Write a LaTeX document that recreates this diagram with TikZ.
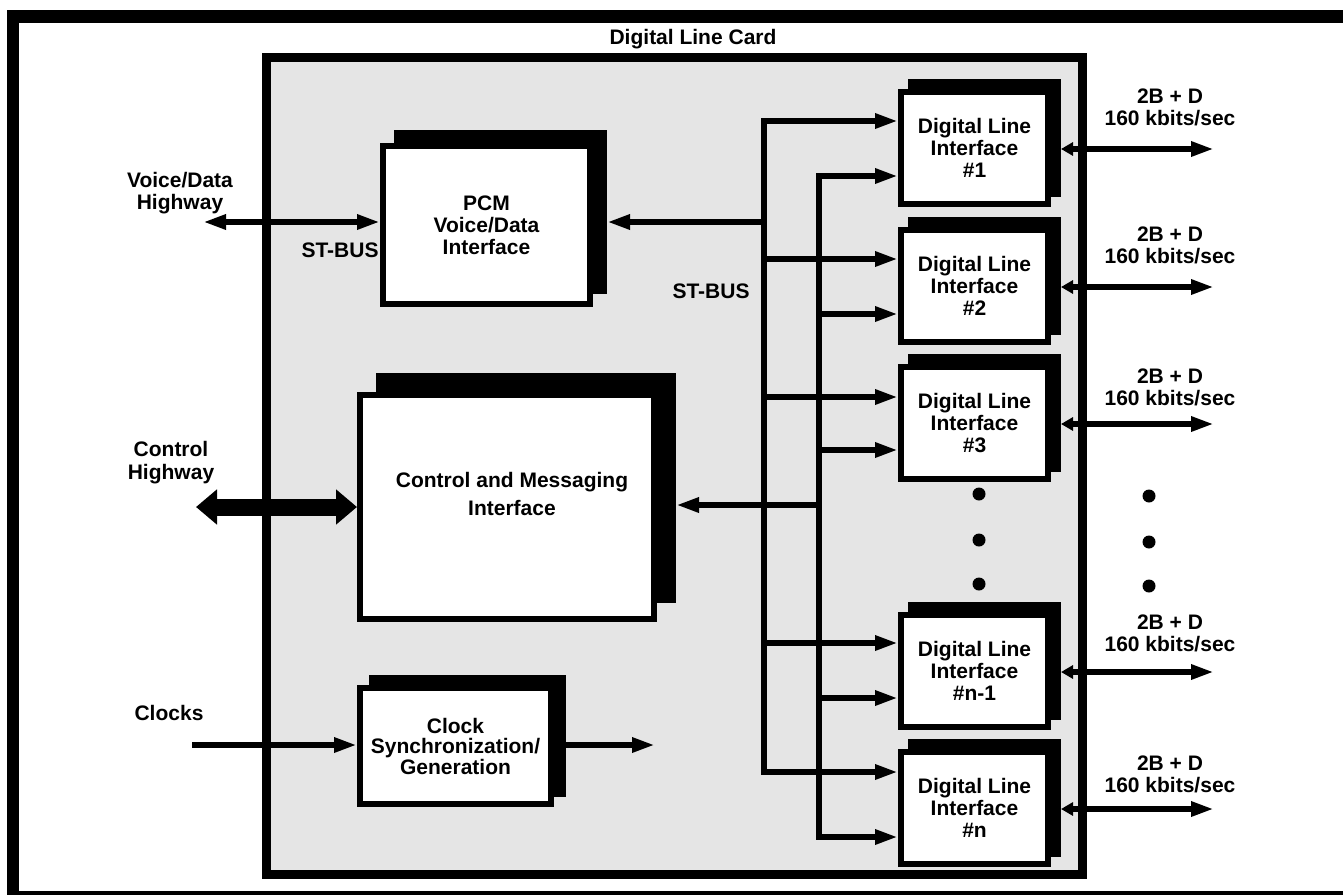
\documentclass[tikz,border=0pt]{standalone}
\usepackage{fontspec}
\setmainfont{Liberation Sans}
\usetikzlibrary{arrows.meta}
\definecolor{cardgray}{RGB}{229,229,229}
\tikzset{
  Hd/.tip={Triangle[length=23pt,width=14pt]},
  Sm/.tip={Triangle[length=12pt,width=13pt]},
  Bg/.tip={Triangle[length=21pt,width=34pt]},
}
\begin{document}
\begin{tikzpicture}[x=1pt,y=-1pt,
  every node/.style={font=\bfseries\fontsize{21}{22}\selectfont, align=center, inner sep=0pt, outer sep=0pt},
  front/.style={rectangle, draw=black, fill=white, line width=6pt, outer sep=3pt},
  backbox/.style={rectangle, fill=black},
  card/.style={rectangle, draw=black, fill=cardgray, line width=9pt},
  wire/.style={line width=6.5pt},
  fatwire/.style={line width=17pt},
  dlifront/.style={front, minimum width=147pt, minimum height=112pt},
  dliback/.style={backbox, minimum width=153pt, minimum height=118pt},
]
\useasboundingbox (0,0) rectangle (1343,894);
\clip (0,0) rectangle (1343,894);

% outer frame
\draw[line width=12.5pt] (13,16.5) rectangle (1370,897);

% card
\node[card, minimum width=816pt, minimum height=817pt] (card) at (674.5,465.5) {};
\node (title) at (693,39) {Digital Line Card};

% PCM
\node[backbox, minimum width=213pt, minimum height=164pt] (pcmb) at (500.5,212) {};
\node[front, minimum width=207pt, minimum height=158pt] (pcm) at (486.5,225) {PCM\\Voice/Data\\Interface};

% Control and messaging
\node[backbox, minimum width=300pt, minimum height=230pt] (cmib) at (526,488) {};
\node[front, minimum width=294pt, minimum height=224pt] (cmi) at (507,507) {};
\node[font=\bfseries\fontsize{21}{28}\selectfont] (cmitxt) at (512,494) {Control and Messaging\\Interface};

% Clock
\node[backbox, minimum width=197pt, minimum height=122pt] (clkb) at (467.5,736) {};
\node[front, minimum width=191pt, minimum height=116pt, font=\bfseries\fontsize{21}{20.5}\selectfont] (clk) at (455.5,746) {Clock\\Synchronization/\\Generation};

% Digital line interfaces
\node[dliback] (d1b) at (984.5,138) {};
\node[dlifront] (d1) at (974.5,148) {Digital Line\\Interface\\\#1};
\node[dliback] (d2b) at (984.5,276) {};
\node[dlifront] (d2) at (974.5,286) {Digital Line\\Interface\\\#2};
\node[dliback] (d3b) at (984.5,413) {};
\node[dlifront] (d3) at (974.5,423) {Digital Line\\Interface\\\#3};
\node[dliback] (dn1b) at (984.5,661) {};
\node[dlifront] (dn1) at (974.5,671) {Digital Line\\Interface\\\#n-1};
\node[dliback] (dnb) at (984.5,798) {};
\node[dlifront] (dn) at (974.5,808) {Digital Line\\Interface\\\#n};

% bus coordinates
\coordinate (aT) at (764,121);
\coordinate (aB) at (764,772);
\coordinate (a2) at (764,259);
\coordinate (a3) at (764,397);
\coordinate (an1) at (764,643);
\coordinate (ptap) at (764,222);
\coordinate (bT) at (819,176);
\coordinate (bB) at (819,837);
\coordinate (b2) at (819,314);
\coordinate (b3) at (819,450);
\coordinate (bn1) at (819,698);
\coordinate (ctap) at (819,505);

% ST-BUS A
\draw[wire, Hd-Hd] (d1.west |- aT) -- (aT) -- (aB) -- (dn.west |- aB);
\draw[wire, -Hd] (a2) -- (a2 -| d2.west);
\draw[wire, -Hd] (a3) -- (a3 -| d3.west);
\draw[wire, -Hd] (an1) -- (an1 -| dn1.west);
\draw[wire, -Hd] (ptap) -- (ptap -| pcmb.east);
% ST-BUS B
\draw[wire, Hd-Hd] (d1.west |- bT) -- (bT) -- (bB) -- (dn.west |- bB);
\draw[wire, -Hd] (b2) -- (b2 -| d2.west);
\draw[wire, -Hd] (b3) -- (b3 -| d3.west);
\draw[wire, -Hd] (bn1) -- (bn1 -| dn1.west);
\draw[wire, -Hd] (ctap) -- (ctap -| cmib.east);

% external connections, left
\coordinate (vdh) at (203,222);
\draw[wire, Hd-Hd] (vdh) -- (vdh -| pcm.west);
\coordinate (chw) at (196,507);
\draw[fatwire, Bg-Bg] (chw) -- (chw -| cmi.west);
\coordinate (clkin) at (192,745);
\draw[wire, -Hd] (clkin) -- (clkin -| clk.west);
\coordinate (clkout) at (655,745);
\draw[wire, -Hd] (clkout -| clkb.east) -- (clkout);

% external connections, right
\coordinate (o1) at (1214,149);
\coordinate (o2) at (1214,287);
\coordinate (o3) at (1214,424);
\coordinate (on1) at (1214,672);
\coordinate (on) at (1214,809);
\draw[wire, Sm-Hd] (o1 -| d1b.east) -- (o1);
\draw[wire, Sm-Hd] (o2 -| d2b.east) -- (o2);
\draw[wire, Sm-Hd] (o3 -| d3b.east) -- (o3);
\draw[wire, Sm-Hd] (on1 -| dn1b.east) -- (on1);
\draw[wire, Sm-Hd] (on -| dnb.east) -- (on);

% labels
\node (vdhlbl) at (180,193) {Voice/Data\\Highway};
\node (stbus1) at (340,250) {ST-BUS};
\node (stbus2) at (711,291) {ST-BUS};
\node[font=\bfseries\fontsize{21}{23}\selectfont] (chlbl) at (171,463) {Control\\Highway};
\node (clklbl) at (169,713) {Clocks};
\node (r1) at (1170,107) {2B + D\\160 kbits/sec};
\node (r2) at (1170,245.5) {2B + D\\160 kbits/sec};
\node (r3) at (1170,387.5) {2B + D\\160 kbits/sec};
\node (rn1) at (1170,633.5) {2B + D\\160 kbits/sec};
\node (rn) at (1170,774) {2B + D\\160 kbits/sec};

% ellipsis dots
\fill (979,494) circle (6.5pt);
\fill (979,540) circle (6.5pt);
\fill (979,584) circle (6.5pt);
\fill (1149,496) circle (6.5pt);
\fill (1149,542) circle (6.5pt);
\fill (1149,586) circle (6.5pt);
\end{tikzpicture}
\end{document}
